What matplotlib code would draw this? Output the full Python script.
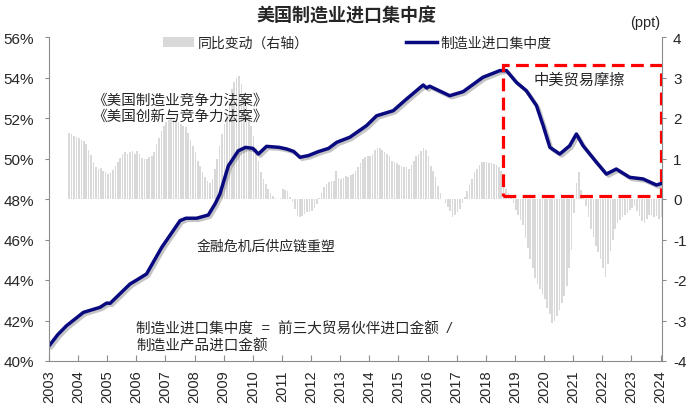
import numpy as np
import matplotlib as mpl
import matplotlib.pyplot as plt
import matplotlib.patheffects as pe
from matplotlib.patches import Rectangle, Patch
from matplotlib.lines import Line2D

mpl.rcParams['font.family'] = ['Liberation Sans', 'Noto Sans CJK SC', 'DejaVu Sans']
mpl.rcParams['axes.unicode_minus'] = False

# Import concentration (left axis, %)
line_t = [2003.0, 2003.3, 2003.6, 2004.18, 2004.75, 2004.98, 2005.1, 2005.78,
          2006.07, 2006.35, 2006.87, 2007.5, 2007.7, 2008.07, 2008.47, 2008.7,
          2008.87, 2009.16, 2009.5, 2009.75, 2010.0, 2010.19, 2010.47, 2010.9,
          2011.16, 2011.4, 2011.62, 2011.75, 2011.9, 2012.25, 2012.6, 2012.88,
          2013.33, 2013.9, 2014.25, 2014.82, 2015.28, 2015.85, 2015.97, 2016.07,
          2016.76, 2017.22, 2017.9, 2018.48, 2018.71, 2019.05, 2019.39, 2019.74,
          2019.97, 2020.2, 2020.54, 2020.88, 2021.11, 2021.34, 2021.8, 2022.14,
          2022.48, 2022.94, 2023.4, 2023.86, 2024.08]
line_pct = [40.74, 41.30, 41.74, 42.40, 42.65, 42.86, 42.85, 43.80,
            44.05, 44.30, 45.61, 46.93, 47.05, 47.05, 47.21, 47.75,
            48.25, 49.64, 50.38, 50.55, 50.50, 50.22, 50.60, 50.55,
            50.47, 50.35, 50.06, 50.10, 50.14, 50.34, 50.50, 50.80,
            51.05, 51.62, 52.11, 52.36, 52.94, 53.63, 53.48, 53.57,
            53.10, 53.30, 54.01, 54.34, 54.34, 53.76, 53.35, 52.61,
            51.62, 50.55, 50.22, 50.63, 51.21, 50.63, 49.81, 49.23,
            49.48, 49.07, 48.99, 48.69, 48.79]

# YoY change (right axis, ppt), monthly from Sep 2003
bar_start = (2003, 9)
bar_yoy = [
    1.63, 1.60, 1.55, 1.52,                                                  # 2003
    1.50, 1.46, 1.42, 1.35, 1.22, 1.08, 0.92, 0.78, 0.74, 0.76, 0.70, 0.66,  # 2004
    0.62, 0.65, 0.72, 0.82, 0.91, 1.02, 1.12, 1.15, 1.10, 1.17, 1.19, 1.12,  # 2005
    1.19, 1.10, 1.02, 0.99, 1.00, 1.03, 1.05, 1.15, 1.35, 1.50, 1.68, 1.81,  # 2006
    1.90, 1.95, 1.98, 1.96, 1.92, 1.89, 1.85, 1.80, 1.77, 1.62, 1.45, 1.32,  # 2007
    1.15, 0.95, 0.82, 0.66, 0.55, 0.45, 0.40, 0.50, 0.74, 1.00, 1.32, 1.60,  # 2008
    1.85, 2.10, 2.40, 2.72, 2.90, 3.00, 3.04, 2.84, 2.50, 2.30, 2.05, 1.81,  # 2009
    1.55, 1.25, 0.95, 0.66, 0.50, 0.37, 0.25, 0.16, 0.08, 0.03, 0.01, 0.02,  # 2010
    0.25, 0.22, 0.20, 0.05, -0.08, -0.25, -0.41, -0.45, -0.43, -0.38, -0.33, -0.33,  # 2011
    -0.30, -0.22, -0.12, 0.03, 0.15, 0.30, 0.38, 0.42, 0.45, 0.45, 0.70, 0.52,  # 2012
    0.49, 0.52, 0.58, 0.55, 0.60, 0.62, 0.70, 0.80, 0.90, 0.99, 1.03, 1.05,  # 2013
    1.07, 1.12, 1.20, 1.25, 1.25, 1.20, 1.15, 1.10, 1.05, 0.95, 0.91, 0.88,  # 2014
    0.85, 0.82, 0.80, 0.78, 0.74, 0.85, 0.95, 1.07, 1.11, 1.18, 1.25, 1.20,  # 2015
    1.05, 0.82, 0.70, 0.55, 0.33, 0.15, 0.00, -0.10, -0.20, -0.30, -0.45, -0.40,  # 2016
    -0.33, -0.25, -0.10, 0.04, 0.20, 0.35, 0.49, 0.66, 0.75, 0.84, 0.91, 0.91,  # 2017
    0.92, 0.90, 0.88, 0.86, 0.84, 0.80, 0.70, 0.45, 0.25, 0.15, 0.05, -0.10,  # 2018
    -0.26, -0.40, -0.51, -0.65, -0.96, -1.20, -1.49, -1.70, -1.95, -2.10, -2.23, -2.35,  # 2019
    -2.48, -2.70, -2.85, -3.05, -3.00, -2.89, -2.75, -2.56, -2.40, -2.15, -1.70, -1.25,  # 2020
    -0.34, 0.39, 0.66, 0.23, 0.07, -0.18, -0.45, -0.75, -0.95, -1.15, -1.30, -1.49,  # 2021
    -1.70, -1.93, -1.60, -1.29, -1.00, -0.75, -0.60, -0.51, -0.45, -0.40, -0.34, -0.28,  # 2022
    -0.22, -0.18, -0.30, -0.43, -0.55, -0.59, -0.50, -0.39, -0.40, -0.45, -0.43, -0.50,  # 2023
    -0.45,                                                                   # 2024
]
years = list(range(2003, 2025))

bar_t = bar_start[0] + (bar_start[1] - 1 + np.arange(len(bar_yoy))) / 12.0

txt = '#262626'
grey = '#8c8c8c'

fig = plt.figure(figsize=(7, 4.14), dpi=100)
ax1 = fig.add_axes([49 / 700, 52 / 414, 613 / 700, 324 / 414])
ax2 = ax1.twinx()
ax1.set_zorder(ax2.get_zorder() + 1)
ax1.patch.set_visible(False)

# bars (right axis)
ax2.bar(bar_t, bar_yoy, width=0.055, color='#d9d9d9', align='edge', linewidth=0)
ax2.set_ylim(-4, 4)
ax2.set_yticks(range(-4, 5))

# line (left axis)
ax1.plot(line_t, line_pct, color='#0a0a80', lw=2.5, solid_capstyle='round',
         path_effects=[pe.SimpleLineShadow(offset=(1.5, -1.5), shadow_color='#808080', alpha=0.45),
                       pe.Normal()])
ax1.set_ylim(40, 56)
ax1.set_yticks(range(40, 57, 2))
ax1.set_yticklabels([f'{v}%' for v in range(40, 57, 2)])
ax1.set_xlim(2003, 2024.05)
ax1.set_xticks(years)
ax1.set_xticklabels([str(y) for y in years], rotation=90)

# trade-friction box
ax1.add_patch(Rectangle((2018.6, 48.15), 5.4, 6.47, fill=False, edgecolor='#ff0000',
                        lw=2.3, linestyle=(0, (4, 2)), zorder=5))

for ax in (ax1, ax2):
    ax.spines['top'].set_visible(False)
    for s in ax.spines.values():
        s.set_color(grey)
ax1.spines['right'].set_visible(False)
ax2.spines['left'].set_visible(False)
ax2.spines['bottom'].set_visible(False)
ax1.tick_params(axis='y', direction='out', length=3, color=grey, labelsize=11, labelcolor=txt, pad=8)
ax1.tick_params(axis='x', direction='in', length=4, color=grey, labelsize=10.5, labelcolor=txt, pad=6)
ax2.tick_params(axis='y', direction='out', length=3, color=grey, labelsize=11, labelcolor=txt, pad=5)

# annotations
ax1.text(2007.5, 52.89, '《美国制造业竞争力法案》', ha='center', va='center', fontsize=10.5, color=txt, style='italic')
ax1.text(2007.5, 52.10, '《美国创新与竞争力法案》', ha='center', va='center', fontsize=10.5, color=txt, style='italic')
ax1.text(2021.2, 53.89, '中美贸易摩擦', ha='center', va='center', fontsize=11, color=txt, style='italic')
ax1.text(2008.06, 45.69, '金融危机后供应链重塑', ha='left', va='center', fontsize=10, color=txt, style='italic')
ax1.text(2006.0, 41.61, '制造业进口集中度  =  前三大贸易伙伴进口金额  /', ha='left', va='center',
         fontsize=10.5, color=txt, style='italic')
ax1.text(2006.0, 40.76, '制造业产品进口金额', ha='left', va='center', fontsize=10.5, color=txt, style='italic')

fig.text(0.495, 1 - 17 / 414, '美国制造业进口集中度', ha='center', va='center',
         fontsize=13, fontweight='bold', color=txt)
fig.text(645 / 700, 1 - 23 / 414, '(ppt)', ha='center', va='center', fontsize=10.5, color=txt)

handles = [Patch(facecolor='#d9d9d9', edgecolor='none'),
           Line2D([], [], color='#0a0a80', lw=2.5)]
ax1.legend(handles, ['同比变动（右轴）', '制造业进口集中度'], loc='center',
           bbox_to_anchor=(0.503, 0.982), ncol=2, frameon=False, fontsize=10,
           columnspacing=7, handlelength=2.2, handletextpad=0.3, labelcolor=txt)

fig.savefig('out.png', dpi=100)
